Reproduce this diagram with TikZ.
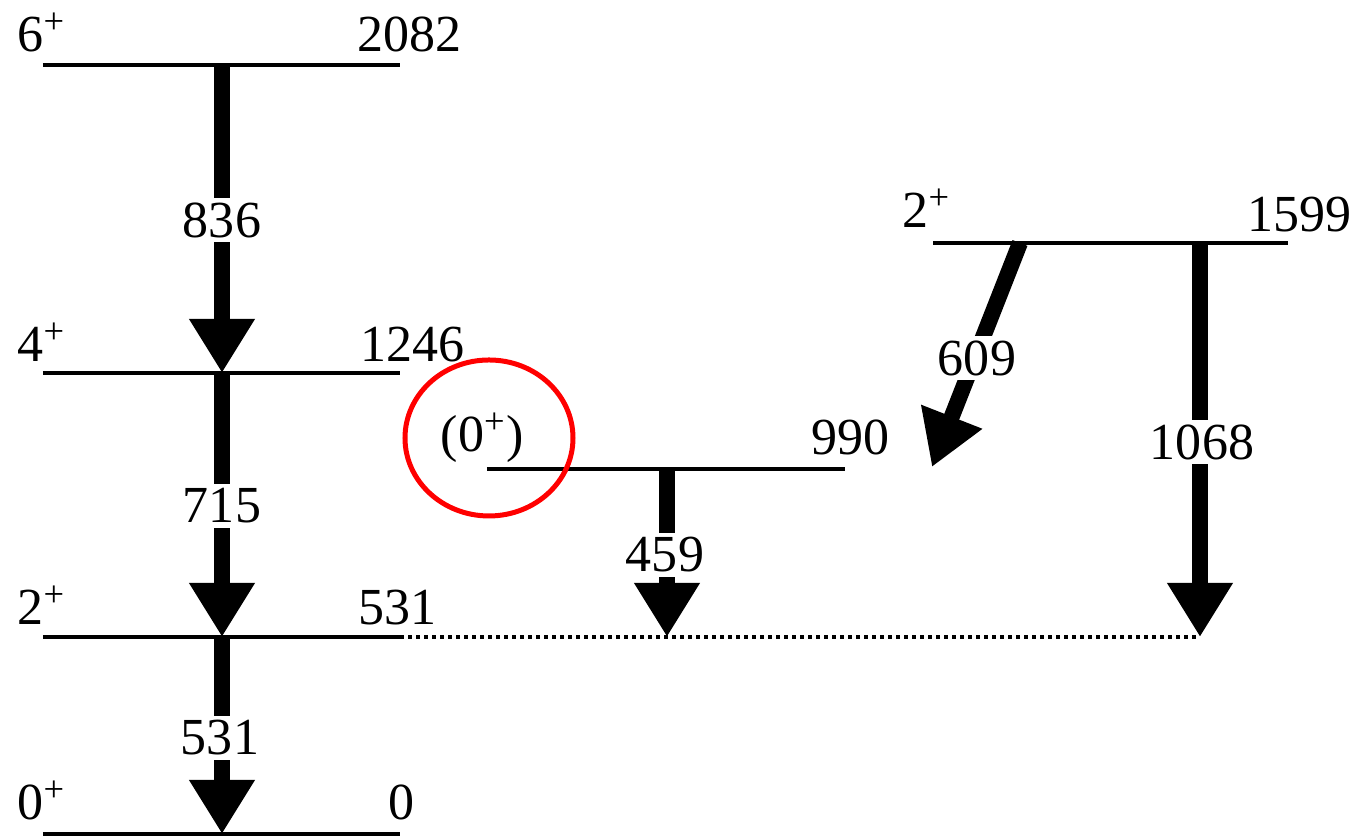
\documentclass[tikz,border=0pt]{standalone}
\usepackage{fontspec}
\setmainfont{Liberation Serif}
\newfontfamily\schemefont{Liberation Serif}
\usetikzlibrary{arrows.meta,positioning,calc,shapes.geometric}
\tikzset{
  level/.style={line width=0.045cm},
  gammaline/.style={line width=0.16cm, -{Triangle[length=0.54cm, width=0.62cm]}},
  gammalabel/.style={fill=white, inner sep=1.2pt, font=\schemefont\fontsize{14.8}{16}\selectfont},
  levellabel/.style={inner sep=0pt, font=\schemefont\fontsize{14.8}{16}\selectfont},
  feeding/.style={line width=0.04cm, dash pattern=on 0.035cm off 0.045cm},
}

\begin{document}
\begin{tikzpicture}
    \useasboundingbox (0,0) rectangle (13.61,8.38);
    % level ends
    \coordinate (l0a) at (0.43,0.04);     \coordinate (l0b) at (4.00,0.04);
    \coordinate (l531a) at (0.43,2.01);   \coordinate (l531b) at (4.00,2.01);
    \coordinate (l1246a) at (0.43,4.65);  \coordinate (l1246b) at (4.00,4.65);
    \coordinate (l2082a) at (0.43,7.73);  \coordinate (l2082b) at (4.00,7.73);
    \coordinate (l990a) at (4.87,3.69);   \coordinate (l990b) at (8.45,3.69);
    \coordinate (l1599a) at (9.33,5.95);  \coordinate (l1599b) at (12.88,5.95);
    \draw[level] (l0a) -- (l0b);
    \draw[level] (l531a) -- (l531b);
    \draw[level] (l1246a) -- (l1246b);
    \draw[level] (l2082a) -- (l2082b);
    \draw[level] (l990a) -- (l990b);
    \draw[level] (l1599a) -- (l1599b);

    % level labels
    \node[levellabel, anchor=base west] (s2082) at (0.17,7.86) {6\textsuperscript{+}};
    \node[levellabel, anchor=base east] (e2082) at (4.62,7.86) {2082};
    \node[levellabel, anchor=base west] (s1246) at (0.17,4.76) {4\textsuperscript{+}};
    \node[levellabel, anchor=base east] (e1246) at (4.65,4.76) {1246};
    \node[levellabel, anchor=base west] (s531) at (0.17,2.13) {2\textsuperscript{+}};
    \node[levellabel, anchor=base east] (e531) at (4.37,2.13) {531};
    \node[levellabel, anchor=base west] (s0) at (0.17,0.18) {0\textsuperscript{+}};
    \node[levellabel, anchor=base east] (e0) at (4.15,0.18) {0};
    \node[levellabel, anchor=base west] (s990) at (4.40,3.86) {(0\textsuperscript{+})};
    \node[levellabel, anchor=base east] (e990) at (8.90,3.83) {990};
    \node[levellabel, anchor=base west] (s1599) at (9.02,6.10) {2\textsuperscript{+}};
    \node[levellabel, anchor=base east] (e1599) at (13.52,6.06) {1599};

    % transition ends
    \coordinate (g836a) at (2.22,7.73);  \coordinate (g836b) at (2.22,4.65);
    \coordinate (g715a) at (2.22,4.65);  \coordinate (g715b) at (2.22,2.01);
    \coordinate (g531a) at (2.22,2.01);  \coordinate (g531b) at (2.22,0.04);
    \coordinate (g459a) at (6.67,3.69);  \coordinate (g459b) at (6.67,2.01);
    \coordinate (g1068a) at (12.00,5.95); \coordinate (g1068b) at (12.00,2.01);
    \coordinate (g609a) at (10.20,5.95); \coordinate (g609b) at (9.32,3.71);

    \draw[feeding] (l531b) -- (g1068b);

    \draw[gammaline] (g836a) -- (g836b);
    \draw[gammaline] (g715a) -- (g715b);
    \draw[gammaline] (g531a) -- (g531b);
    \draw[gammaline] (g459a) -- (g459b);
    \draw[gammaline] (g1068a) -- (g1068b);
    \draw[gammaline] (g609a) -- (g609b);

    \node[gammalabel] (t836) at (2.22,6.18) {836};
    \node[gammalabel] (t715) at (2.22,3.32) {715};
    \node[gammalabel] (t531) at (2.20,1.00) {531};
    \node[gammalabel] (t459) at (6.65,2.83) {459};
    \node[gammalabel] (t1068) at (12.02,3.96) {1068};
    \node[gammalabel] (t609) at (9.77,4.80) {609};

    % marked state
    \node[draw=red, line width=0.05cm, ellipse, minimum width=1.68cm, minimum height=1.56cm] (mark) at (4.89,4.00) {};
\end{tikzpicture}
\end{document}
